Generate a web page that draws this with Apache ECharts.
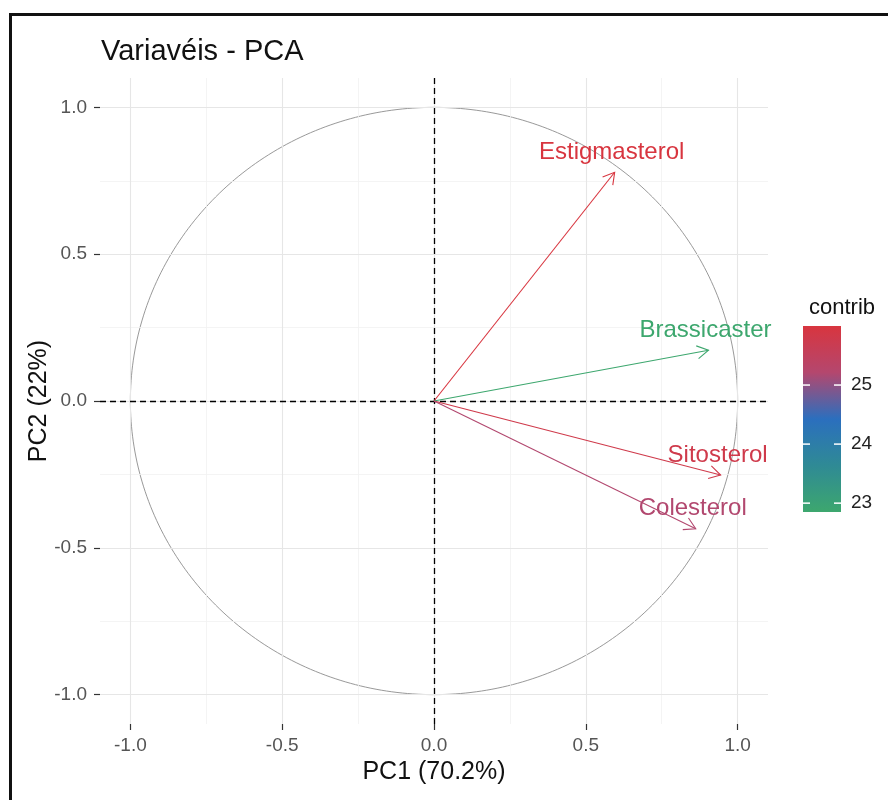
<!DOCTYPE html>
<html>
<head>
<meta charset="utf-8">
<title>Variavéis - PCA</title>
<script src="https://cdn.jsdelivr.net/npm/echarts@6/dist/echarts.min.js"></script>
<style>
  html, body { margin: 0; padding: 0; background: #fff; overflow: hidden; }
  #chart { position: absolute; left: 0; top: 0; width: 888px; height: 800px; }
  #frame {
    position: absolute; left: 9px; top: 13px; width: 1000px; height: 1000px;
    border-left: 3px solid #111; border-top: 3px solid #111; pointer-events: none;
  }
</style>
</head>
<body>
<div id="chart"></div>
<div id="frame"></div>
<script>
// Variables and their coordinates on the first two principal components
const variables = ['Estigmasterol', 'Brassicaster', 'Sitosterol', 'Colesterol'];
const pc1 = [0.595, 0.904, 0.944, 0.862];
const pc2 = [0.779, 0.173, -0.252, -0.435];
// Contribution (%) of each variable to PC1 + PC2
const contrib = [26.0, 22.85, 25.8, 25.2];

// Axis ticks, grid lines and colour bar ticks
const axisTicks = [-1, -0.5, 0, 0.5, 1];
const minorGrid = [-0.75, -0.25, 0.25, 0.75];
const legendTicks = [23, 24, 25];

// Low -> high contribution colours
const palette = ['#3da76e', '#2f8a95', '#2b6fbe', '#b4476e', '#d8353f'];

const FONT = 'Liberation Sans, Arial, Helvetica, sans-serif';
const cmin = Math.min(...contrib);
const cmax = Math.max(...contrib);

// Unit correlation circle
const circle = [];
for (let k = 0; k <= 360; k++) {
  const t = k * Math.PI / 180;
  circle.push([Math.cos(t), Math.sin(t)]);
}

const minorStyle = { color: '#f1f1f1', width: 0.8, type: 'solid' };
const majorStyle = { color: '#e6e6e6', width: 1.1, type: 'solid' };
const gridLineData = []
  .concat(minorGrid.map(v => ({ xAxis: v, lineStyle: minorStyle })))
  .concat(minorGrid.map(v => ({ yAxis: v, lineStyle: minorStyle })))
  .concat(axisTicks.map(v => ({ xAxis: v, lineStyle: majorStyle })))
  .concat(axisTicks.map(v => ({ yAxis: v, lineStyle: majorStyle })));

const chart = echarts.init(document.getElementById('chart'), null, { renderer: 'canvas' });

const option = {
  animation: false,
  backgroundColor: '#fff',
  textStyle: { fontFamily: FONT },
  title: [
    {
      text: 'Variavéis - PCA', left: 96, top: 32,
      textStyle: { fontFamily: FONT, fontSize: 29, fontWeight: 'normal', color: '#111' }
    },
    {
      text: 'contrib', left: 804, top: 292,
      textStyle: { fontFamily: FONT, fontSize: 22, fontWeight: 'normal', color: '#111' }
    }
  ],
  grid: [
    { left: 100, top: 78, width: 668, height: 646, containLabel: false },
    { left: 803, top: 326, width: 38, height: 186, containLabel: false }
  ],
  xAxis: [
    {
      gridIndex: 0, type: 'value', min: -1.1, max: 1.1,
      name: 'PC1 (70.2%)', nameLocation: 'middle', nameGap: 36, nameMoveOverlap: false,
      nameTextStyle: { fontFamily: FONT, fontSize: 25, color: '#111' },
      axisLine: { show: false, onZero: false },
      axisTick: { show: true, length: 6, customValues: axisTicks, lineStyle: { color: '#333', width: 1.2 } },
      axisLabel: {
        customValues: axisTicks, margin: 12, fontSize: 19, color: '#555', fontFamily: FONT,
        formatter: v => v.toFixed(1)
      },
      splitLine: { show: false }
    },
    { gridIndex: 1, type: 'value', min: 0, max: 1, show: false }
  ],
  yAxis: [
    {
      gridIndex: 0, type: 'value', min: -1.1, max: 1.1,
      name: 'PC2 (22%)', nameLocation: 'middle', nameGap: 48, nameRotate: 90, nameMoveOverlap: false,
      nameTextStyle: { fontFamily: FONT, fontSize: 25, color: '#111' },
      axisLine: { show: false, onZero: false },
      axisTick: { show: true, length: 6, customValues: axisTicks, lineStyle: { color: '#333', width: 1.2 } },
      axisLabel: {
        customValues: axisTicks, margin: 13, fontSize: 19, color: '#555', fontFamily: FONT,
        formatter: v => v.toFixed(1)
      },
      splitLine: { show: false }
    },
    { gridIndex: 1, type: 'value', min: cmin, max: cmax, show: false }
  ],
  visualMap: {
    type: 'continuous', show: false, seriesIndex: 1, dimension: 2,
    min: cmin, max: cmax, inRange: { color: palette }
  },
  series: [
    {
      // correlation circle with panel grid and reference lines
      type: 'line', xAxisIndex: 0, yAxisIndex: 0, data: circle,
      symbol: 'none', smooth: false, silent: true, z: 2,
      lineStyle: { color: '#8d8d8d', width: 0.9 },
      markLine: {
        silent: true, symbol: ['none', 'none'], label: { show: false },
        data: gridLineData.concat([
          { xAxis: 0, lineStyle: { color: '#000', width: 1.3, type: [6, 4] } },
          { yAxis: 0, lineStyle: { color: '#000', width: 1.3, type: [6, 4] } }
        ])
      }
    },
    {
      // variable arrows with names
      type: 'custom', xAxisIndex: 0, yAxisIndex: 0, z: 5,
      data: variables.map((n, i) => [pc1[i], pc2[i], contrib[i]]),
      encode: { x: 0, y: 1 },
      renderItem: function (params, api) {
        const p0 = api.coord([0, 0]);
        const p1 = api.coord([api.value(0), api.value(1)]);
        const color = api.visual('color');
        const ang = Math.atan2(p1[1] - p0[1], p1[0] - p0[0]);
        const L = 13, A = Math.PI / 6;
        const h1 = [p1[0] - L * Math.cos(ang - A), p1[1] - L * Math.sin(ang - A)];
        const h2 = [p1[0] - L * Math.cos(ang + A), p1[1] - L * Math.sin(ang + A)];
        return {
          type: 'group',
          children: [
            { type: 'line', shape: { x1: p0[0], y1: p0[1], x2: p1[0], y2: p1[1] },
              style: { stroke: color, lineWidth: 1.1 } },
            { type: 'polyline', shape: { points: [h1, p1, h2] },
              style: { stroke: color, lineWidth: 1.1, fill: null } },
            { type: 'text',
              style: { text: variables[params.dataIndex], x: p1[0] - 3, y: p1[1] - 20,
                       fill: color, fontSize: 24, fontFamily: FONT,
                       align: 'center', verticalAlign: 'middle' } }
          ]
        };
      }
    },
    {
      // colour bar
      type: 'custom', xAxisIndex: 1, yAxisIndex: 1, silent: true, z: 3,
      data: [[cmin, cmax]],
      renderItem: function (params, api) {
        const tl = api.coord([0, api.value(1)]);
        const br = api.coord([1, api.value(0)]);
        const stops = palette.slice().reverse().map((c, i) => ({ offset: i / (palette.length - 1), color: c }));
        return {
          type: 'rect',
          shape: { x: tl[0], y: tl[1], width: br[0] - tl[0], height: br[1] - tl[1] },
          style: { fill: new echarts.graphic.LinearGradient(0, 0, 0, 1, stops) }
        };
      }
    },
    {
      // colour bar ticks and labels
      type: 'custom', xAxisIndex: 1, yAxisIndex: 1, silent: true, z: 4,
      data: legendTicks.map(t => [0, t]),
      renderItem: function (params, api) {
        const l = api.coord([0, api.value(1)]);
        const r = api.coord([1, api.value(1)]);
        return {
          type: 'group',
          children: [
            { type: 'line', shape: { x1: l[0], y1: l[1], x2: l[0] + 7, y2: l[1] },
              style: { stroke: '#fff', lineWidth: 1.5 } },
            { type: 'line', shape: { x1: r[0] - 7, y1: r[1], x2: r[0], y2: r[1] },
              style: { stroke: '#fff', lineWidth: 1.5 } },
            { type: 'text',
              style: { text: String(legendTicks[params.dataIndex]), x: r[0] + 10, y: r[1],
                       fill: '#222', fontSize: 19, fontFamily: FONT,
                       align: 'left', verticalAlign: 'middle' } }
          ]
        };
      }
    }
  ]
};

chart.setOption(option);
</script>
</body>
</html>
